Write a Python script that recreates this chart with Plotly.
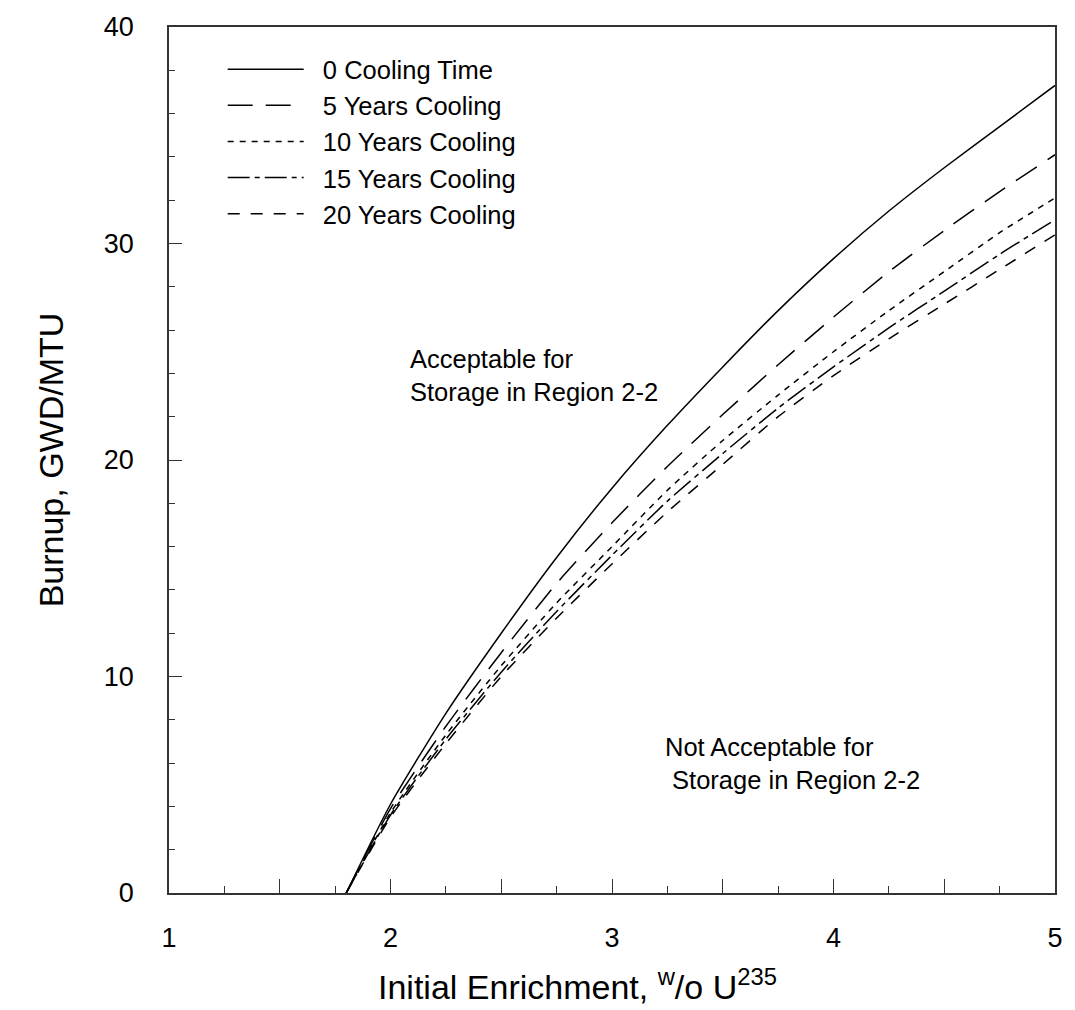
import plotly.graph_objects as go

# Initial enrichment (w/o U235)
enrichment = [1.8, 2.0, 2.25, 2.5, 2.75, 3.0, 3.25, 3.5, 3.75, 4.0, 4.25, 4.5, 4.75, 5.0]

# Burnup (GWD/MTU) for each cooling time
burnup_0yr = [0, 4.1, 8.3, 12.0, 15.5, 18.7, 21.6, 24.3, 26.9, 29.3, 31.5, 33.5, 35.4, 37.3]
burnup_5yr = [0, 3.9, 7.7, 11.1, 14.3, 17.1, 19.7, 22.1, 24.4, 26.6, 28.7, 30.6, 32.4, 34.1]
burnup_10yr = [0, 3.7, 7.3, 10.5, 13.4, 16.0, 18.6, 20.9, 23.0, 25.0, 26.9, 28.7, 30.5, 32.1]
burnup_15yr = [0, 3.6, 7.1, 10.2, 13.0, 15.6, 18.1, 20.3, 22.4, 24.3, 26.1, 27.8, 29.5, 31.1]
burnup_20yr = [0, 3.5, 6.9, 10.0, 12.7, 15.2, 17.6, 19.8, 22.0, 23.9, 25.6, 27.2, 28.8, 30.4]

series_names = ["0 Cooling Time", "5 Years Cooling", "10 Years Cooling",
                "15 Years Cooling", "20 Years Cooling"]
series_values = [burnup_0yr, burnup_5yr, burnup_10yr, burnup_15yr, burnup_20yr]
series_dash = ["solid", "25px,13px", "6px,6px", "22px,5px,5px,5px", "12px,11px"]

x_major_ticks = [1, 1.5, 2, 2.5, 3, 3.5, 4, 4.5, 5]
x_tick_text = ["1", "", "2", "", "3", "", "4", "", "5"]
y_major_ticks = [0, 10, 20, 30, 40]

FONT = "Liberation Sans, Arial, Helvetica, sans-serif"
NBSP = "\u00a0\u00a0"

fig = go.Figure()
for i, (name, vals, dash) in enumerate(zip(series_names, series_values, series_dash)):
    fig.add_trace(go.Scatter(
        x=enrichment, y=vals, mode="lines", name=NBSP + name,
        line=dict(color="black", width=1.5, dash=dash, shape="spline", smoothing=0.6),
    ))

axis_common = dict(
    showline=True, linecolor="#333333", linewidth=1.5, mirror=True,
    showgrid=False, zeroline=False, ticks="inside", tickcolor="#333333",
    tickfont=dict(family=FONT, size=27, color="black"),
)

fig.update_xaxes(
    range=[1, 5], tickvals=x_major_ticks, ticktext=x_tick_text,
    ticklen=14, tickwidth=1.2, ticklabelstandoff=20,
    minor=dict(dtick=0.25, tick0=1, ticks="inside", ticklen=7, tickcolor="#333333", tickwidth=1.2),
    **axis_common,
)
fig.update_yaxes(
    range=[0, 40], tickvals=y_major_ticks,
    ticklen=13, tickwidth=1.2, ticklabelstandoff=28,
    minor=dict(dtick=2, tick0=0, ticks="inside", ticklen=6, tickcolor="#333333", tickwidth=1.2),
    title=dict(text="Burnup, GWD/MTU", font=dict(family=FONT, size=34, color="black"), standoff=30),
    **axis_common,
)

# x-axis title (placed slightly left of axis centre, as in the original)
fig.add_annotation(
    x=0.461, y=-0.106, xref="paper", yref="paper", xanchor="center", yanchor="middle",
    text="Initial Enrichment, <sup>w</sup>/o U<sup>235</sup>", showarrow=False,
    font=dict(family=FONT, size=34, color="black"),
)
fig.add_annotation(
    x=0.2696, y=0.598, xref="paper", yref="paper", xanchor="left", yanchor="middle",
    text="Acceptable for<br>Storage in Region 2-2", showarrow=False, align="left",
    font=dict(family=FONT, size=25.5, color="black"),
)
fig.add_annotation(
    x=0.557, y=0.149, xref="paper", yref="paper", xanchor="left", yanchor="middle",
    text="Not Acceptable for<br> Storage in Region 2-2", showarrow=False, align="left",
    font=dict(family=FONT, size=25.5, color="black"),
)

fig.update_layout(
    width=1075, height=1010,
    margin=dict(l=169, r=12, t=24, b=117),
    paper_bgcolor="white", plot_bgcolor="white",
    font=dict(family=FONT, color="black"),
    showlegend=True,
    legend=dict(
        x=0.0606, y=0.978, xanchor="left", yanchor="top",
        bgcolor="rgba(0,0,0,0)", borderwidth=0,
        font=dict(family=FONT, size=25.5, color="black"),
        itemwidth=76, tracegroupgap=0,
    ),
)

fig.write_html("out.html")
